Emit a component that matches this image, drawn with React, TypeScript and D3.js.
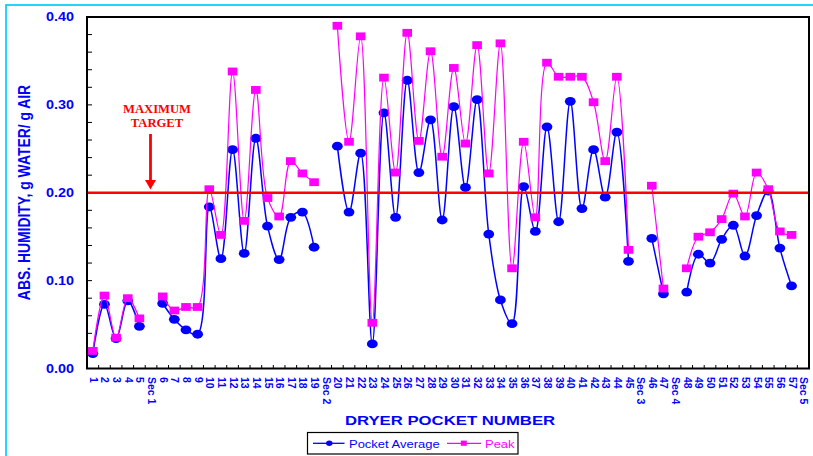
import React from "react";
import * as d3 from "d3";

const categories: string[] = [
  "1", "2", "3", "4", "5", "Sec 1",
  "6", "7", "8", "9", "10", "11", "12", "13", "14", "15", "16", "17", "18", "19", "Sec 2",
  "20", "21", "22", "23", "24", "25", "26", "27", "28", "29", "30", "31", "32", "33", "34", "35",
  "36", "37", "38", "39", "40", "41", "42", "43", "44", "45", "Sec 3",
  "46", "47", "Sec 4",
  "48", "49", "50", "51", "52", "53", "54", "55", "56", "57", "Sec 5",
];

const pocketAverage: (number | null)[] = [
  0.017, 0.073, 0.034, 0.077, 0.048, null,
  0.074, 0.056, 0.044, 0.039, 0.184, 0.125, 0.249, 0.131, 0.262, 0.162, 0.124, 0.172, 0.178, 0.138, null,
  0.253, 0.178, 0.245, 0.028, 0.291, 0.172, 0.328, 0.223, 0.283, 0.169, 0.298, 0.206, 0.306, 0.153, 0.078, 0.051,
  0.207, 0.156, 0.275, 0.167, 0.304, 0.182, 0.249, 0.195, 0.269, 0.122, null,
  0.148, 0.085, null,
  0.087, 0.130, 0.120, 0.147, 0.163, 0.128, 0.174, 0.202, 0.137, 0.094, null,
];

const peak: (number | null)[] = [
  0.020, 0.083, 0.035, 0.080, 0.057, null,
  0.082, 0.066, 0.070, 0.070, 0.204, 0.152, 0.338, 0.168, 0.317, 0.194, 0.173, 0.236, 0.222, 0.212, null,
  0.390, 0.258, 0.378, 0.052, 0.331, 0.223, 0.382, 0.259, 0.361, 0.241, 0.342, 0.256, 0.368, 0.222, 0.370, 0.114,
  0.258, 0.172, 0.348, 0.332, 0.332, 0.332, 0.303, 0.236, 0.332, 0.135, null,
  0.208, 0.091, null,
  0.114, 0.150, 0.155, 0.170, 0.199, 0.173, 0.223, 0.204, 0.156, 0.152, null,
];

const yTicks: number[] = [0, 0.1, 0.2, 0.3, 0.4];
const yMinorTicks: number[] = [0, 0.02, 0.04, 0.06, 0.08, 0.1, 0.12, 0.14, 0.16, 0.18, 0.2, 0.22, 0.24, 0.26, 0.28, 0.3, 0.32, 0.34, 0.36, 0.38, 0.4];
const targetValue = 0.2;

const BLUE = "#0000FF";
const PINK = "#FF00FF";
const RED = "#FF0000";

export default function App() {
  const W = 813, H = 456;
  const left = 87, right = 809, top = 17, bottom = 368.5;

  const x = d3.scaleBand<string>().domain(categories).range([left, right]).padding(0);
  const y = d3.scaleLinear().domain([0, 0.4]).range([bottom, top]);
  const cx = (c: string) => (x(c) as number) + x.bandwidth() / 2;

  type P = { c: string; v: number | null };
  const avgPts: P[] = categories.map((c, i) => ({ c, v: pocketAverage[i] }));
  const peakPts: P[] = categories.map((c, i) => ({ c, v: peak[i] }));

  const line = d3
    .line<P>()
    .defined((d) => d.v !== null)
    .x((d) => cx(d.c))
    .y((d) => y(d.v as number))
    .curve(d3.curveCatmullRom.alpha(0.5));

  const boundaries = d3.range(categories.length + 1).map((i) => left + i * x.bandwidth());
  const font = "Arial, 'Liberation Sans', Helvetica, sans-serif";
  const serif = "'Times New Roman', 'Liberation Serif', serif";

  return (
    <svg
      width={W}
      height={H}
      style={{ position: "absolute", left: 0, top: 0, display: "block", background: "#fff" }}
    >
      {/* outer chart border (top/left visible) */}
      <rect x={6} y={5} width={W + 20} height={H + 20} fill="#fff" stroke="#00CCFF" strokeWidth={1.7} />

      {/* plot area */}
      <rect x={left} y={top} width={right - left} height={bottom - top} fill="#fff" />

      {/* y ticks */}
      {yMinorTicks.map((t, i) => (
        <line key={"ym" + i} x1={left} x2={left + 5} y1={y(t)} y2={y(t)} stroke="#000" strokeWidth={1} />
      ))}
      {/* x ticks */}
      {boundaries.map((b, i) => (
        <line key={"xt" + i} x1={b} x2={b} y1={bottom} y2={bottom - 3.5} stroke="#000" strokeWidth={1} />
      ))}

      {/* series */}
      <path d={line(avgPts) || ""} fill="none" stroke={BLUE} strokeWidth={1.5} />
      {avgPts.filter((d) => d.v !== null).map((d, i) => (
        <ellipse key={"a" + i} cx={cx(d.c)} cy={y(d.v as number)} rx={5.4} ry={4.4} fill={BLUE} />
      ))}
      <path d={line(peakPts) || ""} fill="none" stroke={PINK} strokeWidth={1.2} />
      {peakPts.filter((d) => d.v !== null).map((d, i) => (
        <rect key={"p" + i} x={cx(d.c) - 4.8} y={y(d.v as number) - 3.9} width={9.6} height={7.8} fill={PINK} />
      ))}

      {/* target line */}
      <line x1={left} x2={right} y1={y(targetValue)} y2={y(targetValue)} stroke={RED} strokeWidth={2.6} />

      {/* frame */}
      <rect x={left} y={top} width={right - left} height={bottom - top} fill="none" stroke="#000" strokeWidth={2} />

      {/* y tick labels */}
      {yTicks.map((t, i) => (
        <text
          key={"yl" + i}
          transform={`translate(74,${y(t)}) scale(1.2,1)`}
          textAnchor="end"
          dominantBaseline="central"
          fontFamily={font}
          fontWeight="bold"
          fontSize={12}
          fill={BLUE}
        >
          {t.toFixed(2)}
        </text>
      ))}

      {/* x tick labels */}
      {categories.map((c, i) => (
        <text
          key={"xl" + i}
          transform={`translate(${cx(c) + 1},377) rotate(90)`}
          textAnchor="start"
          dominantBaseline="central"
          fontFamily={font}
          fontWeight="bold"
          fontSize={10.5}
          fill={BLUE}
        >
          {c}
        </text>
      ))}

      {/* axis titles */}
      <text
        transform={`translate(450,425) scale(1.24,1)`}
        textAnchor="middle"
        fontFamily={font}
        fontWeight="bold"
        fontSize={13.5}
        fill={BLUE}
      >
        DRYER POCKET NUMBER
      </text>
      <text
        transform={`translate(24,192.5) scale(1.15,1) rotate(-90)`}
        textAnchor="middle"
        dominantBaseline="central"
        fontFamily={font}
        fontWeight="bold"
        fontSize={13.9}
        fill={BLUE}
      >
        ABS. HUMIDITY, g WATER/ g AIR
      </text>

      {/* annotation */}
      <text transform="translate(157,113) scale(1.09,1)" textAnchor="middle" fontFamily={serif} fontWeight="bold" fontSize={11.6} fill={RED}>
        MAXIMUM
      </text>
      <text transform="translate(157,127) scale(1.09,1)" textAnchor="middle" fontFamily={serif} fontWeight="bold" fontSize={11.6} fill={RED}>
        TARGET
      </text>
      <line x1={150.5} x2={150.5} y1={134} y2={181} stroke={RED} strokeWidth={2.8} />
      <path d="M145,180 L156,180 L150.5,189.5 Z" fill={RED} />

      {/* legend */}
      <rect x={307.5} y={432.5} width={210.5} height={21.5} fill="#fff" stroke="#000" strokeWidth={1.2} />
      <line x1={313} x2={344.5} y1={443.3} y2={443.3} stroke={BLUE} strokeWidth={1.3} />
      <ellipse cx={329.3} cy={443.3} rx={3.2} ry={2.7} fill={BLUE} />
      <text transform="translate(349,447.5) scale(1.12,1)" fontFamily={font} fontSize={11.6} fill={BLUE}>
        Pocket Average
      </text>
      <line x1={447} x2={481} y1={443.3} y2={443.3} stroke={PINK} strokeWidth={1.2} />
      <rect x={460.8} y={440.6} width={6} height={5.2} fill={PINK} />
      <text transform="translate(485,447.5) scale(1.12,1)" fontFamily={font} fontSize={11.6} fill={PINK}>
        Peak
      </text>
    </svg>
  );
}
